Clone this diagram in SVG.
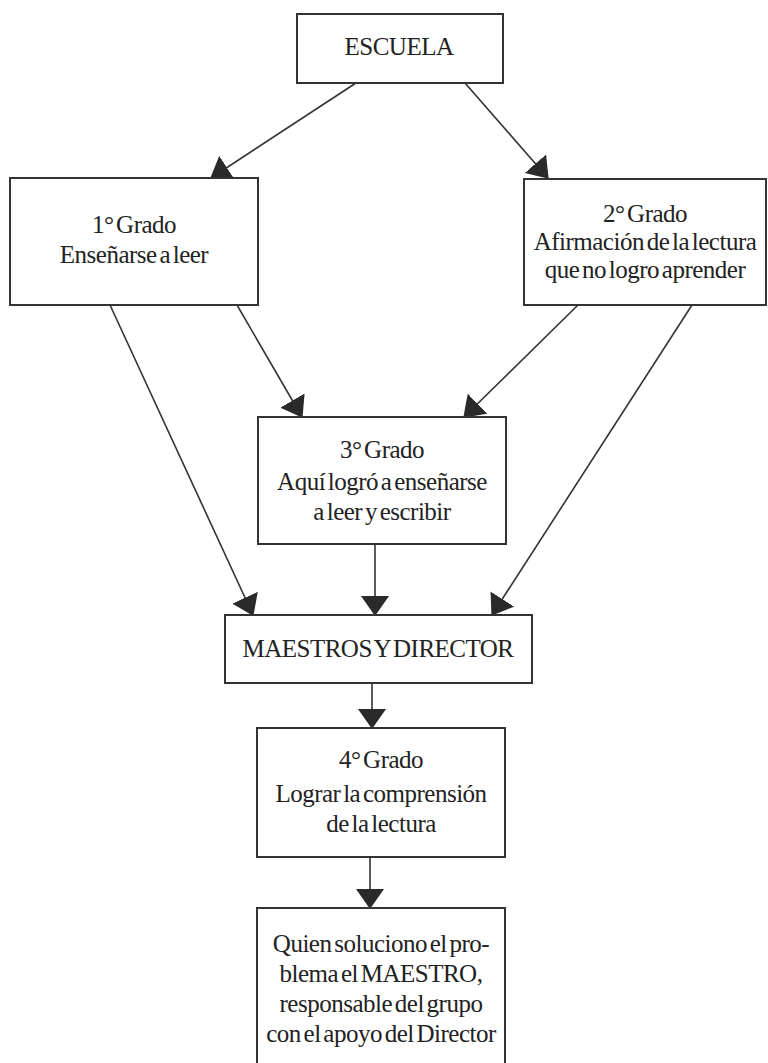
<svg xmlns="http://www.w3.org/2000/svg" width="768" height="1063" viewBox="0 0 768 1063">
<style>
.box{fill:#fff;stroke:#333;stroke-width:2}
.t{font-family:"Liberation Serif","Times New Roman",serif;font-size:25px;fill:#222;text-anchor:middle;letter-spacing:-0.5px;word-spacing:-3px}
.c{stroke:#333;stroke-width:1.6;fill:none;marker-end:url(#ah)}
</style>
<defs>
<marker id="ah" markerUnits="userSpaceOnUse" markerWidth="20" markerHeight="28" refX="19" refY="14" orient="auto" viewBox="0 0 20 28">
<path d="M0,0 L20,14 L0,28 z" fill="#2a2a2a"/>
</marker>
</defs>
<rect width="768" height="1063" fill="#fff"/>
<g id="connectors">
<line class="c" x1="356" y1="83" x2="211" y2="178"/>
<line class="c" x1="465" y1="83" x2="548" y2="178"/>
<line class="c" x1="237" y1="305" x2="302" y2="417"/>
<line class="c" x1="110" y1="305" x2="253" y2="615"/>
<line class="c" x1="578" y1="305" x2="464" y2="417"/>
<line class="c" x1="692" y1="305" x2="492" y2="615"/>
<line class="c" x1="375" y1="544" x2="375" y2="615"/>
<line class="c" x1="372" y1="683" x2="372" y2="728"/>
<line class="c" x1="370" y1="857" x2="370" y2="908"/>
</g>
<g id="escuela">
<rect class="box" x="297" y="14" width="206" height="69"/>
<text class="t" x="399" y="55">ESCUELA</text>
</g>
<g id="grado1">
<rect class="box" x="10" y="178" width="248" height="127"/>
<text class="t" x="134" y="233">1° Grado</text>
<text class="t" x="134" y="263">Enseñarse a leer</text>
</g>
<g id="grado2">
<rect class="box" x="524" y="179" width="242" height="126"/>
<text class="t" x="645" y="222">2° Grado</text>
<text class="t" x="645" y="250">Afirmación de la lectura</text>
<text class="t" x="645" y="278">que no logro aprender</text>
</g>
<g id="grado3">
<rect class="box" x="258" y="417" width="248" height="127"/>
<text class="t" x="382" y="458">3° Grado</text>
<text class="t" x="382" y="490">Aquí logró a enseñarse</text>
<text class="t" x="382" y="520">a leer y escribir</text>
</g>
<g id="maestros">
<rect class="box" x="225" y="615" width="307" height="68"/>
<text class="t" x="378" y="657">MAESTROS Y DIRECTOR</text>
</g>
<g id="grado4">
<rect class="box" x="257" y="728" width="248" height="129"/>
<text class="t" x="381" y="768">4° Grado</text>
<text class="t" x="381" y="802">Lograr la comprensión</text>
<text class="t" x="381" y="832">de la lectura</text>
</g>
<g id="quien">
<rect class="box" x="257" y="908" width="248" height="170"/>
<text class="t" x="381" y="952">Quien soluciono el pro-</text>
<text class="t" x="381" y="982">blema el MAESTRO,</text>
<text class="t" x="381" y="1012">responsable del grupo</text>
<text class="t" x="381" y="1042">con el apoyo del Director</text>
</g>
</svg>
